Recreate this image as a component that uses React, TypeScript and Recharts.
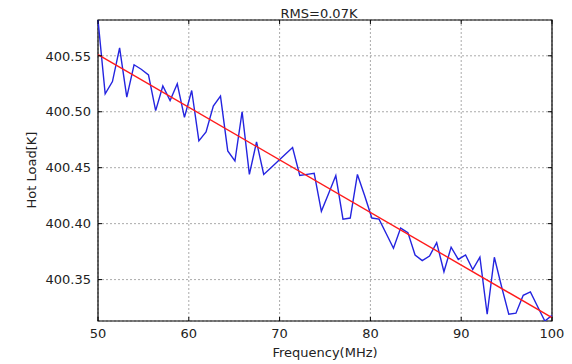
import { CartesianGrid, Line, LineChart, ReferenceArea, XAxis, YAxis } from "recharts";

// frequency grid (MHz) and measured hot load temperature (K)
const freq = [
  50.0, 50.79, 51.59, 52.38, 53.17, 53.97, 54.76, 55.56, 56.35, 57.14,
  57.94, 58.73, 59.52, 60.32, 61.11, 61.9, 62.7, 63.49, 64.29, 65.08,
  65.87, 66.67, 67.46, 68.25, 69.05, 69.84, 70.63, 71.43, 72.22, 73.02,
  73.81, 74.6, 75.4, 76.19, 76.98, 77.78, 78.57, 79.37, 80.16, 80.95,
  81.75, 82.54, 83.33, 84.13, 84.92, 85.71, 86.51, 87.3, 88.1, 88.89,
  89.68, 90.48, 91.27, 92.06, 92.86, 93.65, 94.44, 95.24, 96.03, 96.83,
  97.62, 98.41, 99.21, 100.0,
];

const hotLoad = [
  400.582, 400.516, 400.527, 400.557, 400.513, 400.542, 400.538, 400.533, 400.501, 400.523,
  400.51, 400.525, 400.495, 400.519, 400.474, 400.482, 400.505, 400.514, 400.465, 400.456,
  400.5, 400.444, 400.473, 400.444, 400.45, 400.456, 400.462, 400.468, 400.443, 400.444,
  400.445, 400.411, 400.427, 400.443, 400.404, 400.405, 400.444, 400.425, 400.405, 400.404,
  400.391, 400.378, 400.396, 400.392, 400.372, 400.367, 400.371, 400.383, 400.357, 400.379,
  400.368, 400.372, 400.359, 400.37, 400.319, 400.37, 400.344, 400.319, 400.32, 400.336,
  400.339, 400.326, 400.313, 400.318,
];

// linear fit end points
const fitFreq = [50, 100];
const fitValue = [400.551, 400.316];

const xTicks = [50, 60, 70, 80, 90, 100];
const yTicks = [400.35, 400.4, 400.45, 400.5, 400.55];
const yDomain: [number, number] = [400.313, 400.582];

const title = "RMS=0.07K";
const xLabel = "Frequency(MHz)";
const yLabel = "Hot Load[K]";

const W = 572;
const H = 364;
const PT = 20;
const PB = 321;
const PL = 98;
const PR = 552;
const font = "'DejaVu Sans', 'Liberation Sans', sans-serif";
const textColor = "#222";

const rows = freq.map((f, i) => ({ freq: f, hot: hotLoad[i] }));
const fitRows = fitFreq.map((f, i) => ({ freq: f, fit: fitValue[i] }));

function XTick(props: any) {
  const { x, payload } = props;
  return (
    <g>
      <line x1={x} x2={x} y1={PB} y2={PB - 4} stroke="#000" />
      <line x1={x} x2={x} y1={PT} y2={PT + 4} stroke="#000" />
      <text x={x} y={PB + 17} textAnchor="middle" fontSize={13} fontFamily={font} fill={textColor}>
        {payload.value}
      </text>
    </g>
  );
}

function YTick(props: any) {
  const { y, payload } = props;
  return (
    <g>
      <line x1={PL} x2={PL + 4} y1={y} y2={y} stroke="#000" />
      <line x1={PR - 4} x2={PR} y1={y} y2={y} stroke="#000" />
      <text x={91} y={y + 4.7} textAnchor="end" fontSize={13} fontFamily={font} fill={textColor}>
        {Number(payload.value).toFixed(2)}
      </text>
    </g>
  );
}

export default function App() {
  return (
    <div style={{ position: "absolute", left: 0, top: 0, width: W, height: H, background: "#fff" }}>
      <LineChart width={W} height={H} data={rows} margin={{ top: PT, right: W - PR, bottom: 0, left: 0 }}>
        <CartesianGrid stroke="#aaaaaa" strokeDasharray="2 2" strokeWidth={1} />
        <XAxis
          dataKey="freq"
          type="number"
          domain={[50, 100]}
          ticks={xTicks}
          height={H - PB}
          tickLine={false}
          axisLine={false}
          tick={<XTick />}
          label={{
            content: () => (
              <text x={325} y={357} textAnchor="middle" fontSize={13} fontFamily={font} fill={textColor}>
                {xLabel}
              </text>
            ),
          }}
        />
        <YAxis
          type="number"
          domain={yDomain}
          allowDataOverflow
          ticks={yTicks}
          width={PL}
          tickLine={false}
          axisLine={false}
          tick={<YTick />}
          label={{
            content: () => (
              <text
                x={36}
                y={170}
                transform="rotate(-90 36 170)"
                textAnchor="middle"
                fontSize={13}
                fontFamily={font}
                fill={textColor}
              >
                {yLabel}
              </text>
            ),
          }}
        />
        <Line dataKey="hot" stroke="#2424e0" strokeWidth={1.4} dot={false} isAnimationActive={false} />
        <Line data={fitRows} dataKey="fit" stroke="#ff1a1a" strokeWidth={1.4} dot={false} isAnimationActive={false} />
        <ReferenceArea
          x1={50}
          x2={100}
          y1={yDomain[0]}
          y2={yDomain[1]}
          fill="none"
          stroke="#000"
          strokeWidth={1.2}
          label={{
            content: () => (
              <text x={319} y={18} textAnchor="middle" fontSize={13} fontFamily={font} fill={textColor}>
                {title}
              </text>
            ),
          }}
        />
      </LineChart>
    </div>
  );
}
